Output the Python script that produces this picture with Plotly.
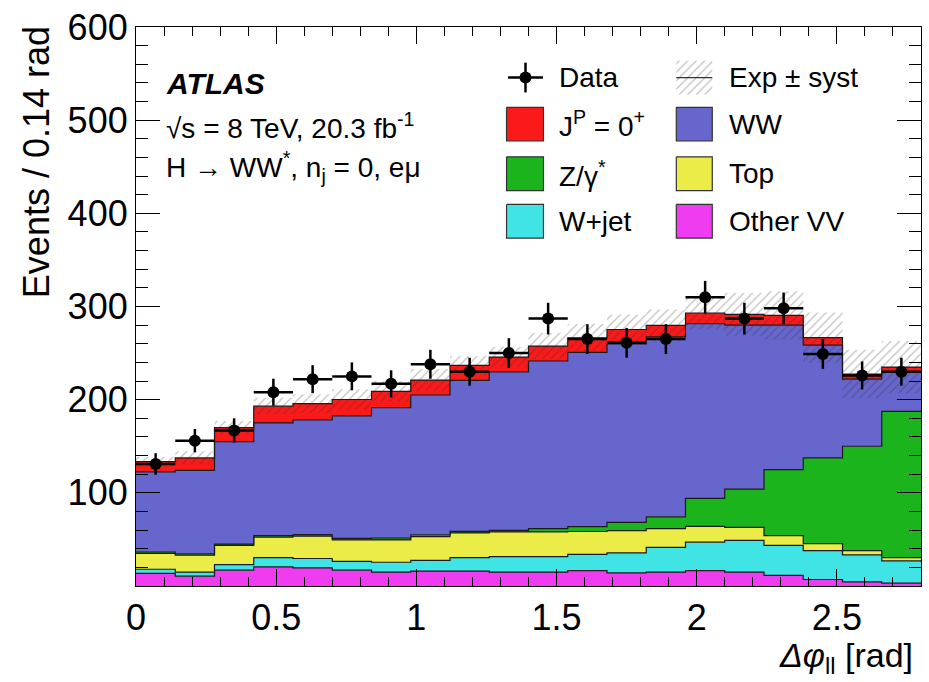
import numpy as np
import plotly.graph_objects as go

# ---------------- data ----------------
bin_width = 0.14
n_bins = 20
edges = np.round(np.arange(n_bins + 1) * bin_width, 4)
centers = edges[:-1] + bin_width / 2

other_vv = [13.5, 10.5, 17, 20.5, 19.5, 17, 15, 16, 16, 15, 15, 16.5, 14, 15, 16.5, 15, 11.5, 7, 4.5, 3]
w_jet = [4.5, 4.5, 6, 10, 10, 9.5, 10.5, 11.5, 14.5, 16.5, 16.5, 17.5, 21.5, 26.5, 30.5, 34, 32, 31, 29, 24]
top = [17, 18, 20.5, 22, 24, 23, 24, 25.5, 26.5, 26.5, 26.5, 24.5, 24, 20, 17, 14, 10.5, 7.5, 4.5, 3.5]
z_gamma = [1.5, 1.5, 1.5, 1.5, 1.7, 1.7, 2, 2, 1.7, 1.7, 3.5, 5.3, 8.8, 12.8, 30, 41, 71, 92, 112, 157]
ww = [86, 89.5, 110, 121, 123, 131.5, 140, 150, 162, 170, 180, 187, 191.5, 193, 187.5, 176, 155, 121, 72, 42]
signal = [11, 13.5, 15, 18, 17.5, 17.5, 17.5, 16, 16, 16, 16, 15.5, 15.5, 12.5, 11.5, 11.5, 10.5, 8, 5.5, 5.5]
syst = [5, 7, 7, 9, 10, 11, 11, 12, 10, 11, 14, 15, 16, 17, 18, 23, 26, 27, 26, 28]
data = [131, 156, 167, 208, 222, 225, 217, 238, 230, 250, 287, 265, 261, 265, 310, 287, 298, 249, 226, 230]
data_err = [11.5, 12.5, 13, 14.5, 15, 15, 14.5, 15.5, 15, 16, 17, 16, 16, 16, 17.5, 17, 17, 16, 15, 15]

stack_names = ["Other VV", "W+jet", "Top", "Z/γ*", "WW", "J<sup>P</sup> = 0<sup>+</sup>"]
stack_vals = [other_vv, w_jet, top, z_gamma, ww, signal]
stack_colors = ["#f03cf0", "#40e4e4", "#ecec48", "#1cb41c", "#6666cc", "#fa1a1a"]

FONT = "Liberation Sans, Arial, Helvetica, sans-serif"

# plot area in pixels
W, H = 929, 682
L, R, T, B = 136, 922, 22, 586


def px(x):
    return (x - L) / (R - L)


def py(y):
    return (B - y) / (B - T)


fig = go.Figure()

cum = np.zeros(n_bins)
for i, (name, vals, col) in enumerate(zip(stack_names, stack_vals, stack_colors)):
    cum = cum + np.array(vals, dtype=float)
    yy = np.append(cum, cum[-1])
    fig.add_trace(go.Scatter(
        x=edges, y=yy, mode="lines", line=dict(shape="hv", color="#1a1a1a", width=1.2),
        fill="tozeroy" if i == 0 else "tonexty", fillcolor=col, name=name,
        showlegend=False, hoverinfo="skip"))

total = cum
lo = total - np.array(syst)
hi = total + np.array(syst)
HATCH = dict(shape="/", fgcolor="rgba(40,40,40,0.6)", bgcolor="rgba(0,0,0,0)", size=6, solidity=0.2)
fig.add_trace(go.Scatter(x=edges, y=np.append(lo, lo[-1]), mode="lines",
                         line=dict(shape="hv", width=0, color="rgba(0,0,0,0)"),
                         showlegend=False, hoverinfo="skip"))
fig.add_trace(go.Scatter(x=edges, y=np.append(hi, hi[-1]), mode="lines",
                         line=dict(shape="hv", width=0, color="rgba(0,0,0,0)"),
                         fill="tonexty", fillcolor="rgba(0,0,0,0)", fillpattern=HATCH,
                         showlegend=False, hoverinfo="skip"))

fig.add_trace(go.Scatter(
    x=centers, y=data, mode="markers",
    marker=dict(color="black", size=12),
    error_x=dict(type="constant", value=bin_width / 2, thickness=2.5, width=0, color="black"),
    error_y=dict(type="data", array=data_err, thickness=2.5, width=0, color="black"),
    showlegend=False, hoverinfo="skip"))

# ---------------- legend (drawn on an overlay axis in plot-area units) ----------------
def box(x0, y0, x1, y1):
    return [px(x0), px(x1), px(x1), px(x0), px(x0)], [py(y0), py(y0), py(y1), py(y1), py(y0)]

leg_left_box = (507, 544)
leg_right_box = (677, 713)
rows = [73, 120, 170, 218]
half_h = 17

legend_items = [
    ("right", 1, stack_colors[4], "WW"),
    ("left", 1, stack_colors[5], stack_names[5]),
    ("left", 2, stack_colors[3], "Z/γ<sup>*</sup>"),
    ("right", 2, stack_colors[2], "Top"),
    ("left", 3, stack_colors[1], "W+jet"),
    ("right", 3, stack_colors[0], "Other VV"),
]
annotations = []
for side, r, col, label in legend_items:
    bx = leg_left_box if side == "left" else leg_right_box
    xs, ys = box(bx[0], rows[r] - half_h, bx[1], rows[r] + half_h)
    fig.add_trace(go.Scatter(x=xs, y=ys, xaxis="x2", yaxis="y2", mode="lines",
                             fill="toself", fillcolor=col, line=dict(color="#333", width=1.2),
                             showlegend=False, hoverinfo="skip"))
    tx = 558 if side == "left" else 728
    annotations.append(dict(x=px(tx), y=py(rows[r]), xref="paper", yref="paper",
                            text=label, showarrow=False, xanchor="left", yanchor="middle",
                            font=dict(family=FONT, size=28, color="black")))

# hatch legend box
xs, ys = box(677, rows[0] - half_h, 713, rows[0] + half_h)
fig.add_trace(go.Scatter(x=xs, y=ys, xaxis="x2", yaxis="y2", mode="lines",
                         fill="toself", fillcolor="rgba(0,0,0,0)", line=dict(width=0, color="rgba(0,0,0,0)"),
                         fillpattern=HATCH, showlegend=False, hoverinfo="skip"))
fig.add_trace(go.Scatter(x=[px(677), px(713)], y=[py(rows[0]), py(rows[0])], xaxis="x2", yaxis="y2",
                         mode="lines", line=dict(color="#333", width=1.2),
                         showlegend=False, hoverinfo="skip"))
# data legend marker
fig.add_trace(go.Scatter(x=[px(526)], y=[py(rows[0])], xaxis="x2", yaxis="y2", mode="markers",
                         marker=dict(color="black", size=12),
                         error_x=dict(type="constant", value=17.5 / (R - L), thickness=2.5, width=0, color="black"),
                         error_y=dict(type="constant", value=15 / (B - T), thickness=2.5, width=0, color="black"),
                         showlegend=False, hoverinfo="skip"))
annotations.append(dict(x=px(558), y=py(rows[0]), xref="paper", yref="paper", text="Data",
                        showarrow=False, xanchor="left", yanchor="middle",
                        font=dict(family=FONT, size=28, color="black")))
annotations.append(dict(x=px(728), y=py(rows[0]), xref="paper", yref="paper", text="Exp ± syst",
                        showarrow=False, xanchor="left", yanchor="middle",
                        font=dict(family=FONT, size=28, color="black")))

# ATLAS labels
annotations += [
    dict(x=px(164), y=py(79), xref="paper", yref="paper", text="<b><i>ATLAS</i></b>",
         showarrow=False, xanchor="left", yanchor="middle", font=dict(family=FONT, size=30, color="black")),
    dict(x=px(164), y=py(122), xref="paper", yref="paper", text="√s = 8 TeV, 20.3 fb<sup>-1</sup>",
         showarrow=False, xanchor="left", yanchor="middle", font=dict(family=FONT, size=28, color="black")),
    dict(x=px(164), y=py(163), xref="paper", yref="paper", text="H → WW<sup>*</sup>, n<sub>j</sub> = 0, eμ",
         showarrow=False, xanchor="left", yanchor="middle", font=dict(family=FONT, size=28, color="black")),
    # axis titles
    dict(x=px(916), y=py(658), xref="paper", yref="paper", text="<i>Δφ</i><sub>ll</sub> [rad]",
         showarrow=False, xanchor="right", yanchor="middle", font=dict(family=FONT, size=34, color="black")),
    dict(x=px(36), y=py(19), xref="paper", yref="paper", text="Events / 0.14 rad", textangle=-90,
         showarrow=False, xanchor="center", yanchor="top", font=dict(family=FONT, size=36, color="black")),
]

fig.update_layout(
    width=W, height=H,
    margin=dict(l=L, r=W - R, t=T, b=H - B),
    paper_bgcolor="white", plot_bgcolor="white",
    showlegend=False,
    annotations=annotations,
    xaxis=dict(range=[0, 2.8], tickmode="array", tickvals=[0, 0.5, 1, 1.5, 2, 2.5],
               ticktext=["0", "0.5", "1", "1.5", "2", "2.5"],
               ticks="inside", ticklen=17, tickwidth=1.2, tickcolor="black",
               minor=dict(ticks="inside", ticklen=9, dtick=0.1, tick0=0, tickcolor="black", tickwidth=1.2),
               showline=True, linecolor="black", linewidth=1.2, mirror="allticks",
               showgrid=False, zeroline=False,
               tickfont=dict(family=FONT, size=36, color="black")),
    yaxis=dict(range=[0, 600], tickmode="array", tickvals=[100, 200, 300, 400, 500, 600],
               ticks="inside", ticklen=24, tickwidth=1.2, tickcolor="black",
               minor=dict(ticks="inside", ticklen=12, dtick=20, tick0=0, tickcolor="black", tickwidth=1.2),
               showline=True, linecolor="black", linewidth=1.2, mirror="allticks",
               showgrid=False, zeroline=False,
               tickfont=dict(family=FONT, size=36, color="black")),
    xaxis2=dict(overlaying="x", range=[0, 1], visible=False, anchor="y2"),
    yaxis2=dict(overlaying="y", range=[0, 1], visible=False, anchor="x2"),
)

fig.write_html("out.html")
